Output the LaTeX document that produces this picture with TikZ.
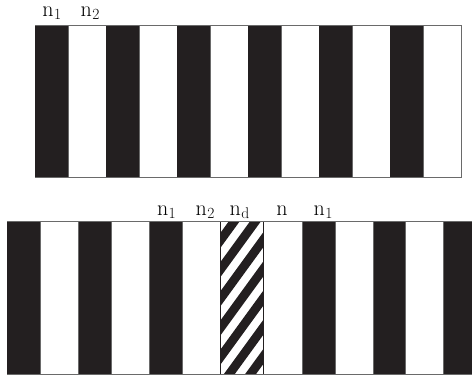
\documentclass[tikz,border=0pt]{standalone}
\usepackage{fontspec}
\definecolor{stripeblack}{HTML}{231F20}
\definecolor{edgegray}{HTML}{6A6A6A}
\newcommand{\nsubx}[1]{n\kern0.5pt\raisebox{-3.2pt}{\fontsize{15.5}{18}\selectfont #1}}
\tikzset{
  blk/.style={fill=stripeblack},
  wht/.style={fill=white, draw=edgegray, line width=0.9pt},
  edge/.style={draw=edgegray, line width=0.9pt},
  lbl/.style={inner sep=0pt, anchor=base west, font=\fontsize{22}{26}\selectfont},
}
\begin{document}
\begin{tikzpicture}[x=1pt,y=1pt]
\useasboundingbox (0,0) rectangle (472,380);
% ---------- top block ----------
\fill[white] (35,202.3) rectangle (461,354.5);
\foreach \k in {0,...,5}{
  \fill[blk] ({35+71*\k},202.3) rectangle ({68+71*\k},354.5);
  \draw[wht] ({68+71*\k},202.3) rectangle ({106+71*\k},354.5);
}
\draw[edge] (35,354.5) -- (461,354.5);
\draw[edge] (35,202.3) -- (461,202.3);
% ---------- bottom block ----------
\foreach \a/\b in {7.3/40.7, 78.7/111.3, 149.3/182.3, 302.3/335, 373.3/405.3, 443.7/472}{
  \fill[blk] (\a,6) rectangle (\b,158.3);
}
\foreach \a/\b in {40.7/78.7, 111.3/149.3, 182.3/220.3, 263.5/302.3, 335/373.3, 405.3/443.7}{
  \draw[wht] (\a,6) rectangle (\b,158.3);
}
% hatched stripe
\fill[white] (220.3,6) rectangle (263.5,158.3);
\begin{scope}
  \clip (220.3,6) rectangle (263.5,158.3);
  \foreach \k in {-2,...,8}{
    \fill[blk] (220.3,{147-29.2*\k}) -- ++(43.2,59.4) -- ++(0,-15) -- ++(-43.2,-59.4) -- cycle;
  }
\end{scope}
\draw[draw=stripeblack, line width=0.9pt] (220.3,6) rectangle (263.5,158.3);
\draw[edge] (7.3,158.3) -- (472,158.3);
\draw[edge] (7.3,6) -- (472,6);
% ---------- labels ----------
\node[lbl] (t1) at (42.2,363.3) {\nsubx{1}};
\node[lbl] (t2) at (80.5,363.3) {\nsubx{2}};
\node[lbl] (b1) at (156.8,164.3) {\nsubx{1}};
\node[lbl] (b2) at (195.5,164.3) {\nsubx{2}};
\node[lbl] (bd) at (229.5,164.3) {\nsubx{d}};
\node[lbl] (bn) at (276.2,164.3) {n};
\node[lbl] (b3) at (313.5,164.3) {\nsubx{1}};
\end{tikzpicture}
\end{document}
